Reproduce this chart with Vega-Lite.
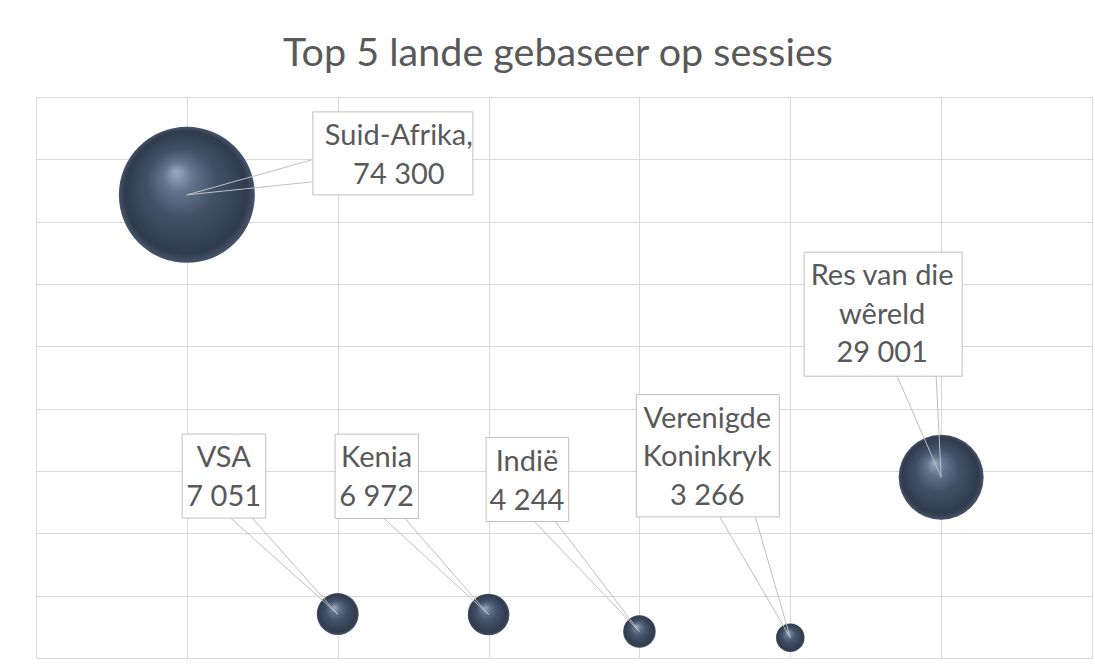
{
  "$schema": "https://vega.github.io/schema/vega-lite/v6.json",
  "width": 1056,
  "height": 561,
  "autosize": {"type": "none"},
  "padding": {"left": 36, "top": 97, "right": 3, "bottom": 13},
  "background": "#ffffff",
  "title": {
    "text": "Top 5 lande gebaseer op sessies",
    "font": "Lato",
    "fontSize": 39.5,
    "fontWeight": "normal",
    "color": "#595959",
    "anchor": "middle",
    "baseline": "alphabetic",
    "offset": -8,
    "dx": -6
  },
  "config": {
    "view": {"stroke": null},
    "axis": {
      "grid": true,
      "gridColor": "#d9d9d9",
      "gridWidth": 1,
      "labels": false,
      "ticks": false,
      "domain": false,
      "title": null
    }
  },
  "data": {
    "values": [
      {"land": "Suid-Afrika", "x": 1, "sessies": 74300, "etiket": "Suid-Afrika,\n74 300"},
      {"land": "VSA", "x": 2, "sessies": 7051, "etiket": "VSA\n7 051"},
      {"land": "Kenia", "x": 3, "sessies": 6972, "etiket": "Kenia\n6 972"},
      {"land": "Indië", "x": 4, "sessies": 4244, "etiket": "Indië\n4 244"},
      {"land": "Verenigde Koninkryk", "x": 5, "sessies": 3266, "etiket": "Verenigde\nKoninkryk\n3 266"},
      {"land": "Res van die wêreld", "x": 6, "sessies": 29001, "etiket": "Res van die\nwêreld\n29 001"}
    ]
  },
  "encoding": {
    "x": {"field": "x", "type": "quantitative", "scale": {"domain": [0, 7], "nice": false, "zero": false}, "axis": {"values": [0, 1, 2, 3, 4, 5, 6, 7]}},
    "y": {"field": "sessies", "type": "quantitative", "scale": {"domain": [0, 90000], "nice": false, "zero": false}, "axis": {"values": [0, 10000, 20000, 30000, 40000, 50000, 60000, 70000, 80000, 90000]}}
  },
  "layer": [
    {
      "mark": {
        "type": "point",
        "shape": "circle",
        "filled": true,
        "opacity": 1,
        "strokeWidth": 0,
        "color": {
          "gradient": "radial",
          "x1": 0.42, "y1": 0.33, "r1": 0,
          "x2": 0.5, "y2": 0.5, "r2": 0.5,
          "stops": [
            {"offset": 0, "color": "#9aabc2"},
            {"offset": 0.22, "color": "#62738c"},
            {"offset": 0.5, "color": "#435168"},
            {"offset": 0.9, "color": "#303b4d"},
            {"offset": 1, "color": "#46546b"}
          ]
        }
      },
      "encoding": {
        "size": {"field": "sessies", "type": "quantitative", "scale": {"domain": [0, 74300], "range": [0, 18496], "zero": true}, "legend": null}
      }
    },
    {
      "transform": [{"filter": "datum.land === 'Suid-Afrika'"}],
      "layer": [
        {"mark": {"type": "rule", "color": "#bfbfbf", "strokeWidth": 1, "x2Offset": 125, "y2Offset": -35}, "encoding": {"x2": {"field": "x"}, "y2": {"field": "sessies"}}},
        {"mark": {"type": "rule", "color": "#bfbfbf", "strokeWidth": 1, "x2Offset": 125, "y2Offset": -13}, "encoding": {"x2": {"field": "x"}, "y2": {"field": "sessies"}}},
        {"mark": {"type": "rect", "fill": "#ffffff", "stroke": "#bfbfbf", "strokeWidth": 1, "xOffset": 126, "x2Offset": 286, "yOffset": -83, "y2Offset": 0}, "encoding": {"x2": {"field": "x"}, "y2": {"field": "sessies"}}},
        {"mark": {"type": "text", "font": "Lato", "fontSize": 29, "color": "#595959", "align": "center", "baseline": "alphabetic", "lineBreak": "\n", "lineHeight": 39, "xOffset": 212, "yOffset": -50}, "encoding": {"text": {"field": "etiket", "type": "nominal"}}}
      ]
    },
    {
      "transform": [{"filter": "datum.land === 'VSA'"}],
      "layer": [
        {"mark": {"type": "rule", "color": "#bfbfbf", "strokeWidth": 1, "x2Offset": -107, "y2Offset": -96}, "encoding": {"x2": {"field": "x"}, "y2": {"field": "sessies"}}},
        {"mark": {"type": "rule", "color": "#bfbfbf", "strokeWidth": 1, "x2Offset": -85.5, "y2Offset": -96}, "encoding": {"x2": {"field": "x"}, "y2": {"field": "sessies"}}},
        {"mark": {"type": "rect", "fill": "#ffffff", "stroke": "#bfbfbf", "strokeWidth": 1, "xOffset": -155.5, "x2Offset": -72, "yOffset": -180, "y2Offset": -96}, "encoding": {"x2": {"field": "x"}, "y2": {"field": "sessies"}}},
        {"mark": {"type": "text", "font": "Lato", "fontSize": 29, "color": "#595959", "align": "center", "baseline": "alphabetic", "lineBreak": "\n", "lineHeight": 39, "xOffset": -114, "yOffset": -147}, "encoding": {"text": {"field": "etiket", "type": "nominal"}}}
      ]
    },
    {
      "transform": [{"filter": "datum.land === 'Kenia'"}],
      "layer": [
        {"mark": {"type": "rule", "color": "#bfbfbf", "strokeWidth": 1, "x2Offset": -104.5, "y2Offset": -96}, "encoding": {"x2": {"field": "x"}, "y2": {"field": "sessies"}}},
        {"mark": {"type": "rule", "color": "#bfbfbf", "strokeWidth": 1, "x2Offset": -83.5, "y2Offset": -96}, "encoding": {"x2": {"field": "x"}, "y2": {"field": "sessies"}}},
        {"mark": {"type": "rect", "fill": "#ffffff", "stroke": "#bfbfbf", "strokeWidth": 1, "xOffset": -153.5, "x2Offset": -70, "yOffset": -180.4, "y2Offset": -96}, "encoding": {"x2": {"field": "x"}, "y2": {"field": "sessies"}}},
        {"mark": {"type": "text", "font": "Lato", "fontSize": 29, "color": "#595959", "align": "center", "baseline": "alphabetic", "lineBreak": "\n", "lineHeight": 39, "xOffset": -112, "yOffset": -147.7}, "encoding": {"text": {"field": "etiket", "type": "nominal"}}}
      ]
    },
    {
      "transform": [{"filter": "datum.land === 'Indië'"}],
      "layer": [
        {"mark": {"type": "rule", "color": "#bfbfbf", "strokeWidth": 1, "x2Offset": -105, "y2Offset": -110}, "encoding": {"x2": {"field": "x"}, "y2": {"field": "sessies"}}},
        {"mark": {"type": "rule", "color": "#bfbfbf", "strokeWidth": 1, "x2Offset": -84, "y2Offset": -110}, "encoding": {"x2": {"field": "x"}, "y2": {"field": "sessies"}}},
        {"mark": {"type": "rect", "fill": "#ffffff", "stroke": "#bfbfbf", "strokeWidth": 1, "xOffset": -153.3, "x2Offset": -70.7, "yOffset": -194, "y2Offset": -110}, "encoding": {"x2": {"field": "x"}, "y2": {"field": "sessies"}}},
        {"mark": {"type": "text", "font": "Lato", "fontSize": 29, "color": "#595959", "align": "center", "baseline": "alphabetic", "lineBreak": "\n", "lineHeight": 39, "xOffset": -112.5, "yOffset": -160.6}, "encoding": {"text": {"field": "etiket", "type": "nominal"}}}
      ]
    },
    {
      "transform": [{"filter": "datum.land === 'Verenigde Koninkryk'"}],
      "layer": [
        {"mark": {"type": "rule", "color": "#bfbfbf", "strokeWidth": 1, "x2Offset": -70.5, "y2Offset": -120.7}, "encoding": {"x2": {"field": "x"}, "y2": {"field": "sessies"}}},
        {"mark": {"type": "rule", "color": "#bfbfbf", "strokeWidth": 1, "x2Offset": -35, "y2Offset": -120.7}, "encoding": {"x2": {"field": "x"}, "y2": {"field": "sessies"}}},
        {"mark": {"type": "rect", "fill": "#ffffff", "stroke": "#bfbfbf", "strokeWidth": 1, "xOffset": -154, "x2Offset": -11, "yOffset": -243, "y2Offset": -120.7}, "encoding": {"x2": {"field": "x"}, "y2": {"field": "sessies"}}},
        {"mark": {"type": "text", "font": "Lato", "fontSize": 29, "color": "#595959", "align": "center", "baseline": "alphabetic", "lineBreak": "\n", "lineHeight": 38.5, "xOffset": -83, "yOffset": -210}, "encoding": {"text": {"field": "etiket", "type": "nominal"}}}
      ]
    },
    {
      "transform": [{"filter": "datum.land === 'Res van die wêreld'"}],
      "layer": [
        {"mark": {"type": "rule", "color": "#bfbfbf", "strokeWidth": 1, "x2Offset": -44, "y2Offset": -101}, "encoding": {"x2": {"field": "x"}, "y2": {"field": "sessies"}}},
        {"mark": {"type": "rule", "color": "#bfbfbf", "strokeWidth": 1, "x2Offset": -5, "y2Offset": -101}, "encoding": {"x2": {"field": "x"}, "y2": {"field": "sessies"}}},
        {"mark": {"type": "rect", "fill": "#ffffff", "stroke": "#bfbfbf", "strokeWidth": 1, "xOffset": -137, "x2Offset": 21, "yOffset": -225, "y2Offset": -101}, "encoding": {"x2": {"field": "x"}, "y2": {"field": "sessies"}}},
        {"mark": {"type": "text", "font": "Lato", "fontSize": 29, "color": "#595959", "align": "center", "baseline": "alphabetic", "lineBreak": "\n", "lineHeight": 38.5, "xOffset": -59, "yOffset": -192}, "encoding": {"text": {"field": "etiket", "type": "nominal"}}}
      ]
    }
  ]
}
